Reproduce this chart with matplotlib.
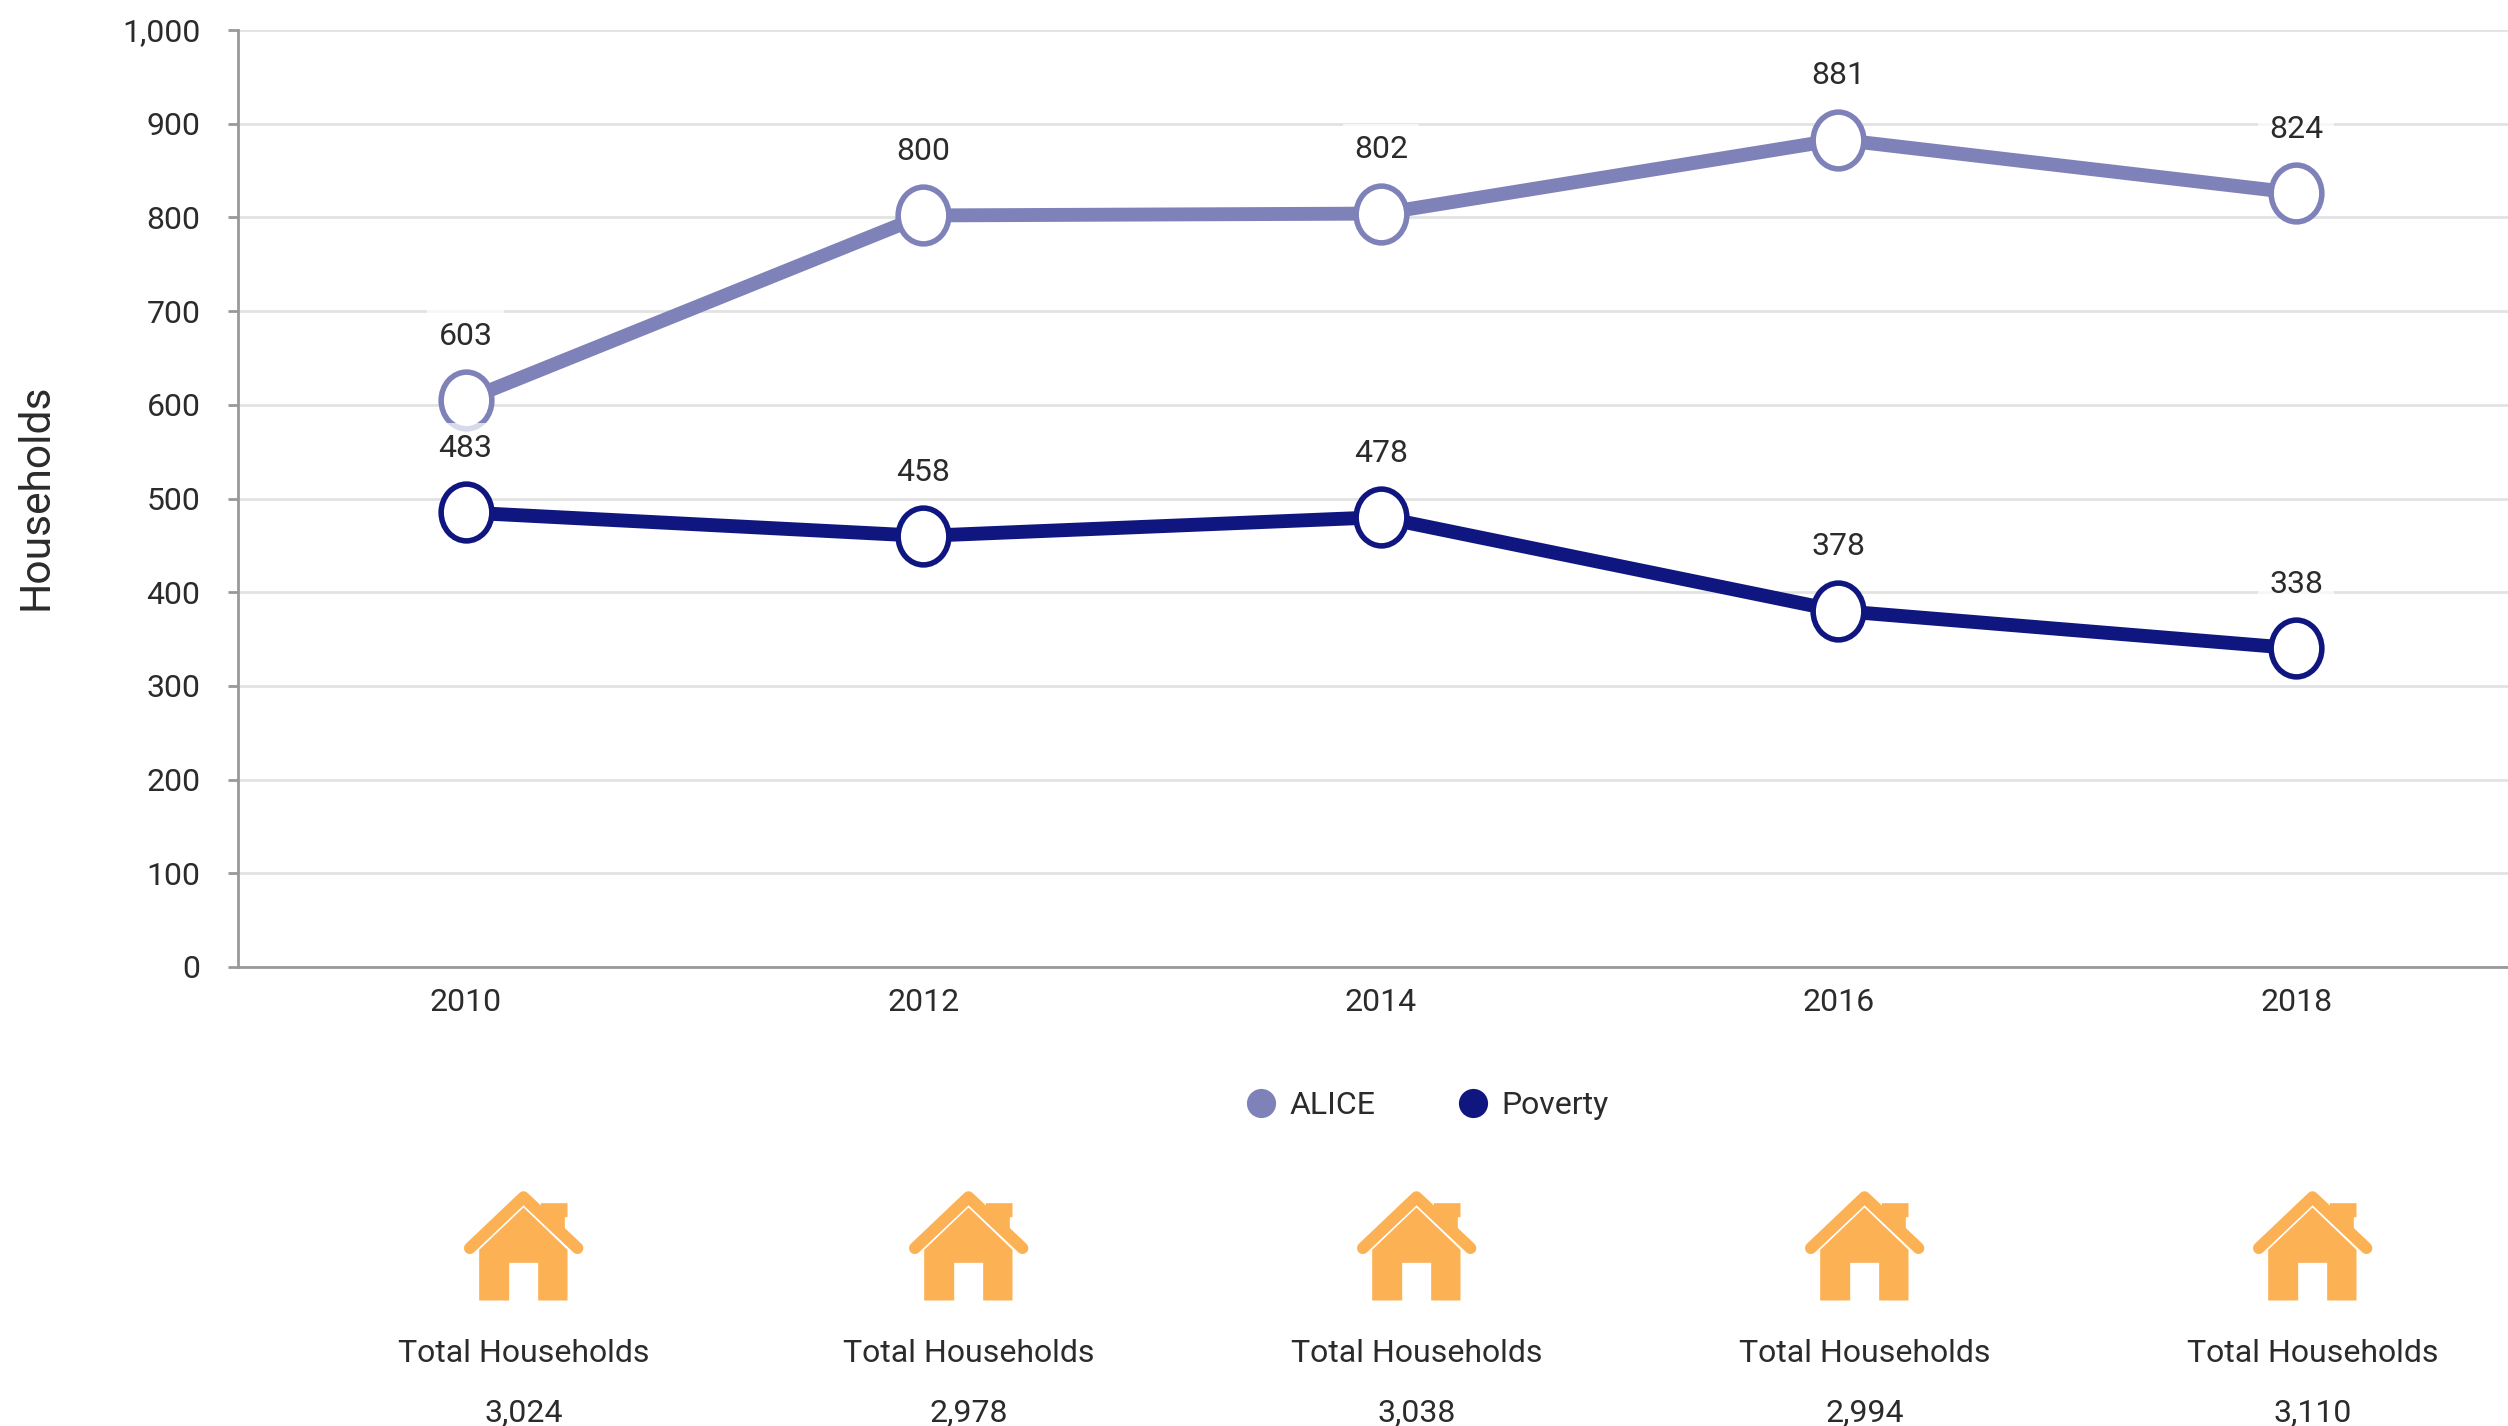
import numpy as np
import matplotlib.pyplot as plt
from matplotlib.patches import Polygon
from matplotlib.lines import Line2D
from matplotlib.markers import MarkerStyle
from matplotlib.transforms import Affine2D, ScaledTranslation

years = ['2010', '2012', '2014', '2016', '2018']
alice = [603, 800, 802, 881, 824]
poverty = [483, 458, 478, 378, 338]
totals = ['3,024', '2,978', '3,038', '2,994', '3,110']
yticks = [0, 100, 200, 300, 400, 500, 600, 700, 800, 900, 1000]

alice_color = '#7f82b8'
poverty_color = '#10167f'
text_color = '#2b2b2b'
house_color = '#fdb155'
W, H = 2508, 1426

plt.rcParams['font.family'] = ['Roboto', 'DejaVu Sans']

fig = plt.figure(figsize=(W / 100, H / 100), dpi=100, facecolor='white')
ax = fig.add_axes([238 / W, 1 - 967 / H, (W - 238) / W, 937 / H])
ax.set_xlim(-0.4973, 4.463)
ax.set_ylim(0, 1000)
ax.set_xticks(range(len(years)))
ax.set_xticklabels(years)
ax.set_yticks(yticks)
ax.set_yticklabels([f'{v:,}' for v in yticks])
ax.tick_params(axis='x', length=0, pad=15, labelsize=23, labelcolor=text_color)
ax.tick_params(axis='y', length=7, width=2, color='#999999', pad=20, labelsize=23, labelcolor=text_color)
ax.grid(axis='y', color='#e2e2e2', lw=2)
ax.set_axisbelow(True)
for side in ['top', 'right']:
    ax.spines[side].set_visible(False)
for side in ['left', 'bottom']:
    ax.spines[side].set_color('#999999')
    ax.spines[side].set_linewidth(2)

# lines sit a little above their gridline position in the original
shift = ax.transData + ScaledTranslation(0, 1.4 / 72, fig.dpi_scale_trans)
# markers are slightly taller than wide in the original
tall_circle = MarkerStyle('o', transform=Affine2D().scale(1, 1.12))
xs = np.arange(len(years))
for values, color, z in [(alice, alice_color, 3), (poverty, poverty_color, 5)]:
    ax.plot(xs, values, color=color, lw=10, transform=shift, zorder=z, clip_on=False)
    ax.plot(xs, values, ls='none', marker=tall_circle, ms=36.5, mfc='white', mec=color,
            mew=4, transform=shift, zorder=z, clip_on=False)
    for x, v in zip(xs, values):
        ax.annotate(str(v), (x, v), xytext=(0, 46), textcoords='offset points', xycoords=shift,
                    ha='center', va='center', fontsize=23, color=text_color, zorder=z + 1,
                    bbox=dict(boxstyle='square,pad=0.35', fc='white', ec='none', alpha=0.7))

handles = [Line2D([], [], ls='none', marker='o', ms=21, mfc=alice_color, mec='none', label='ALICE'),
           Line2D([], [], ls='none', marker='o', ms=21, mfc=poverty_color, mec='none', label='Poverty')]
fig.legend(handles=handles, loc='center', bbox_to_anchor=(1419 / W, 1 - 1106 / H), ncol=2, frameon=False,
           fontsize=23, labelcolor=text_color, handletextpad=-0.1, columnspacing=2.05)

fig.text(36 / W, 1 - 497 / H, 'Households', rotation=90, ha='center', va='center', fontsize=30.6,
         color=text_color)

# overlay in pixel coordinates for the house icons
over = fig.add_axes([0, 0, 1, 1], facecolor='none')
over.set_xlim(0, W)
over.set_ylim(H, 0)
over.axis('off')


def house(cx, top):
    def pts(items):
        return [(cx + (a - 368) / 3, top + (b - 125) / 3) for a, b in items]
    body = [(235, 455), (235, 303), (368, 176), (500, 303), (500, 455), (412, 455),
            (412, 342), (325, 342), (325, 455)]
    chimney = [(420, 163), (500, 163), (500, 205), (492, 205), (492, 240), (420, 180)]
    over.add_patch(Polygon(pts(body), closed=True, fc=house_color, ec='none'))
    over.add_patch(Polygon(pts(chimney), closed=True, fc=house_color, ec='none'))
    roof = pts([(207, 298), (368, 145), (530, 298)])
    over.plot([p[0] for p in roof], [p[1] for p in roof], color=house_color, lw=8.5,
              solid_capstyle='round', solid_joinstyle='round')


total_x = [523.5, 968.5, 1416.5, 1864.5, 2312.5]
for cx, total in zip(total_x, totals):
    house(cx, 1190.5)
    over.text(cx, 1353.5, 'Total Households', ha='center', va='center', fontsize=23, color=text_color)
    over.text(cx, 1412.5, total, ha='center', va='center', fontsize=23, color=text_color)

fig.savefig('out.png', dpi=100)
